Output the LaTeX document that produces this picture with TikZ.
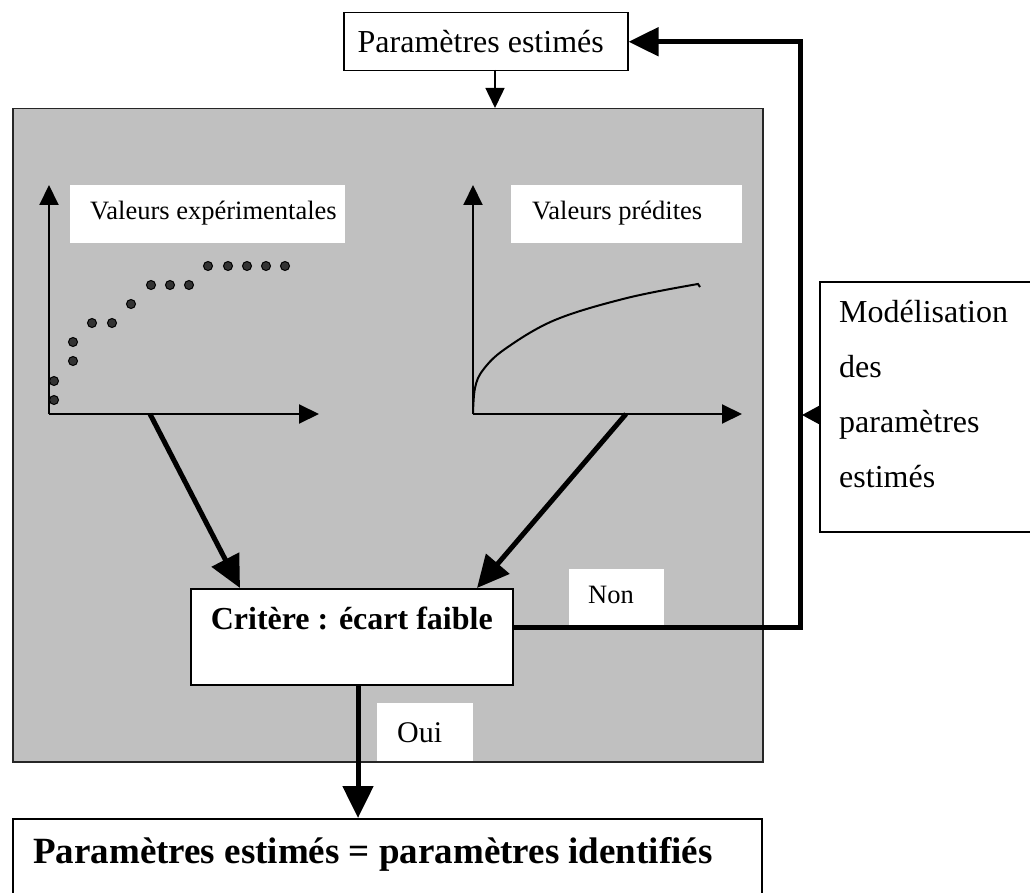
\documentclass[tikz,border=0pt]{standalone}
\usepackage{fontspec}
\setmainfont{Liberation Serif}
\usetikzlibrary{arrows.meta,calc}
\definecolor{panelgrey}{HTML}{C0C0C0}
\definecolor{dotgrey}{HTML}{333333}
\begin{document}
\begin{tikzpicture}[x=1pt,y=-1pt,
  boxd/.style={draw=black, line width=1.5pt, fill=white, inner sep=0pt, anchor=north west},
  lab/.style={fill=white, inner sep=0pt, anchor=north west},
  txt/.style={inner sep=0pt, anchor=base west},
  axisline/.style={line width=2pt, -{Triangle[length=20pt,width=19pt]}},
  fatarrow/.style={line width=5pt, -{Triangle[length=32pt,width=30pt]}},
  fatline/.style={line width=5pt},
  thinarrow/.style={line width=1.5pt, -{Triangle[length=20pt,width=19pt]}},
  smallarrow/.style={line width=1.5pt, -{Triangle[length=17pt,width=18pt]}},
  dot/.style={circle, draw=black, line width=1pt, fill=dotgrey, inner sep=0pt, minimum size=9pt},
  regular/.style={font=\fontsize{32}{38}\selectfont},
  small/.style={font=\fontsize{26.5}{31}\selectfont},
  ouifont/.style={font=\fontsize{30}{36}\selectfont},
  boldtxt/.style={font=\bfseries\fontsize{32}{38}\selectfont},
  bigbold/.style={font=\bfseries\fontsize{37}{44}\selectfont}
]
\useasboundingbox (0,0) rectangle (1030,893);

% top box
\node[boxd, minimum width=284pt, minimum height=58pt] (top) at (343,12) {};
\node[txt, regular, anchor=base east] (toptxt) at (604,53) {Paramètres estimés};

% grey panel
\node[draw=black!85, line width=1.5pt, fill=panelgrey, inner sep=0pt, anchor=north west,
      minimum width=750pt, minimum height=653pt] (panel) at (12,108) {};

% arrow from top box into panel
\coordinate (topout) at (495,70);
\draw[thinarrow] (topout) -- (topout |- panel.north);

% left plot
\coordinate (lo) at (49,414);
\coordinate (ly) at (49,185);
\coordinate (lx) at (319,414);
\draw[axisline] (lo) -- (ly);
\draw[axisline] (lo) -- (lx);
\node[lab, minimum width=275pt, minimum height=58pt] (labexp) at (70,185) {};
\node[txt, small] (labexptxt) at (90,220) {Valeurs expérimentales};
\foreach \px/\py [count=\i] in {54/400,54/381,73/361,73/342,92/323,112/323,131/304,151/285,170/285,189/285,208/266,228/266,247/266,266/266,285/266}
  \node[dot] (d\i) at (\px,\py) {};

% right plot
\coordinate (ro) at (473,414);
\coordinate (ry) at (473,185);
\coordinate (rx) at (742,414);
\draw[axisline] (ro) -- (ry);
\draw[axisline] (ro) -- (rx);
\node[lab, minimum width=231pt, minimum height=58pt] (labpred) at (511,185) {};
\node[txt, small] (labpredtxt) at (532,220) {Valeurs prédites};
\draw[line width=2pt] plot[smooth, tension=0.6] coordinates {(473,414) (475,388) (483,370) (505,349) (555,320) (627,298) (698,284)} -- (700,287);

% criterion box
\node[boxd, minimum width=322pt, minimum height=96pt] (crit) at (190,588) {};
\node[boldtxt, inner sep=0pt, anchor=base] (crittxt) at ($(crit.north)+(0,41)$) {Critère : écart faible};

% thick arrows into criterion
\coordinate (lstart) at (150,414);
\coordinate (rstart) at (626,414);
\draw[fatarrow] (lstart) -- ($(crit.north west)+(50,0)$);
\draw[fatarrow] (rstart) -- ($(crit.north west)+(287,0)$);

% Non loop
\coordinate (nonA) at ($(crit.north east)+(0,39)$);
\coordinate (nonB) at (800,627);
\draw[line width=5pt, -{Triangle[length=30pt,width=28pt]}] (nonA) -- (nonB) -- (nonB |- top.east) -- (top.east);
\node[lab, minimum width=95pt, minimum height=56pt] (nonlab) at (569,569) {};
\node[txt, small] (nontxt) at (588,603) {Non};

% Modelisation box
\node[boxd, minimum width=212pt, minimum height=250pt] (model) at (819,281) {};
\node[txt, regular] (m1) at (839,322) {Modélisation};
\node[txt, regular] (m2) at (839,377) {des};
\node[txt, regular] (m3) at (839,432) {paramètres};
\node[txt, regular] (m4) at (839,487) {estimés};
\draw[smallarrow] (model.west |- 0,415) -- (802,415);

% Oui
\node[lab, minimum width=96pt, minimum height=58pt] (ouilab) at (377,703) {};
\node[txt, ouifont] (ouitxt) at (397,742) {Oui};

% bottom box
\begin{scope}
\clip (0,0) rectangle (1030,893);
\node[boxd, minimum width=749pt, minimum height=120pt] (final) at (12,818) {};
\end{scope}
\node[txt, bigbold] (finaltxt) at (33,863) {Paramètres estimés = paramètres identifiés};

\draw[fatarrow] (crit.south -| 358,0) -- (final.north -| 358,0);
\end{tikzpicture}
\end{document}
